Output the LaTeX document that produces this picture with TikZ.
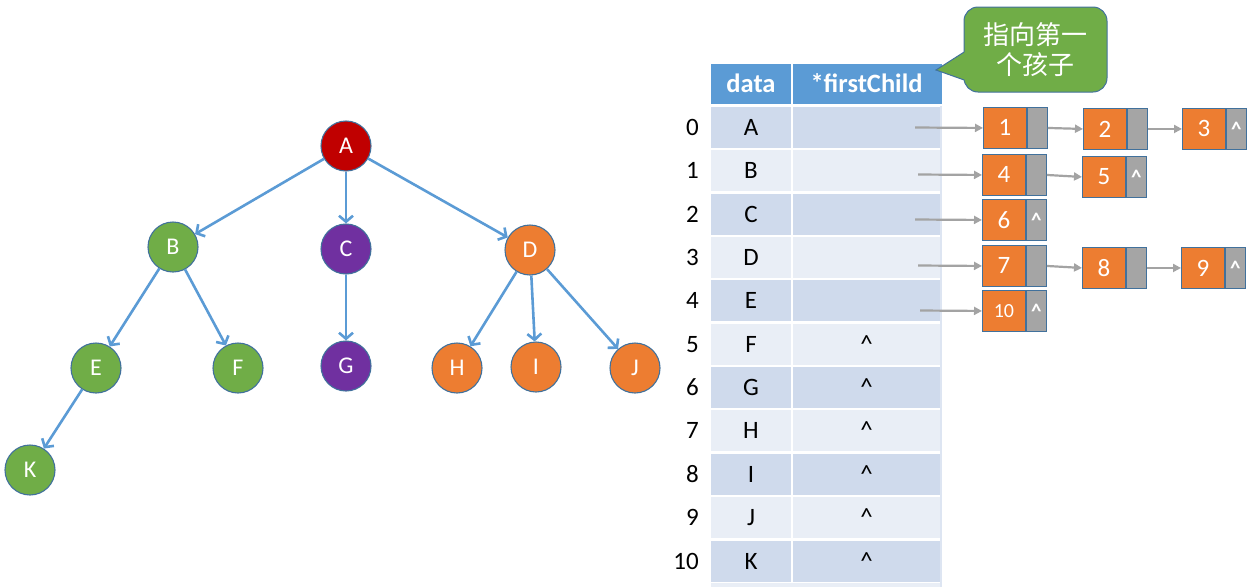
\documentclass[tikz,border=0pt]{standalone}
\usepackage{fontspec}
\setmainfont{Carlito}
\newfontfamily\cjk{Noto Sans CJK SC}
\usetikzlibrary{arrows.meta}
\definecolor{treeblue}{HTML}{5B9BD5}
\definecolor{edgeblue}{HTML}{41719C}
\definecolor{cred}{HTML}{C00000}
\definecolor{cgreen}{HTML}{70AD47}
\definecolor{cpurple}{HTML}{7030A0}
\definecolor{corange}{HTML}{ED7D31}
\definecolor{cgray}{HTML}{A5A5A5}
\definecolor{rowdark}{HTML}{CFDAEC}
\definecolor{rowlight}{HTML}{E9EEF6}
\definecolor{hdr}{HTML}{5B9BD5}
\definecolor{arrgray}{HTML}{A3A3A3}
\begin{document}
\begin{tikzpicture}[x=1pt,y=-1pt,
  tnode/.style={circle, draw=edgeblue, line width=1.1pt, minimum size=50pt, inner sep=0pt, text=white, font=\fontsize{24}{26}\selectfont},
  tedge/.style={draw=treeblue, line width=2.6pt, -{Straight Barb[length=6pt,width=14pt]}},
  hdrcell/.style={rectangle, fill=hdr, inner sep=0pt, minimum height=40pt, text=white, text height=17pt, text depth=0pt, font=\fontsize{26.5}{28}\selectfont\bfseries},
  cell/.style={rectangle, inner sep=0pt, minimum height=41pt, text height=16pt, text depth=0pt, font=\fontsize{25}{28}\selectfont},
  idx/.style={inner sep=0pt, anchor=east, text height=16pt, text depth=0pt, font=\fontsize{25}{28}\selectfont},
  lnode/.style={rectangle, draw=edgeblue, line width=0.9pt, fill=corange, minimum width=43pt, minimum height=41pt, inner sep=0pt, text=white, font=\fontsize{25}{28}\selectfont},
  lptr/.style={rectangle, draw=edgeblue, line width=0.9pt, fill=cgray, minimum width=20pt, minimum height=41pt, inner sep=0pt, text=white, font=\fontsize{21}{22}\selectfont\bfseries},
  garrow/.style={draw=arrgray, line width=2.2pt, -{Triangle[length=8pt,width=8pt]}}
]
\useasboundingbox (0,0) rectangle (1250,587);
% ---------------- tree ----------------
\node[tnode, fill=cred] (A) at (346,146) {A};
\node[tnode, fill=cgreen] (B) at (173,247) {B};
\node[tnode, fill=cpurple] (C) at (346,249) {C};
\node[tnode, fill=corange] (D) at (530,250) {D};
\node[tnode, fill=cgreen] (E) at (96,368) {E};
\node[tnode, fill=cgreen] (F) at (238,368) {F};
\node[tnode, fill=cpurple] (G) at (346,366) {G};
\node[tnode, fill=corange] (H) at (457,368) {H};
\node[tnode, fill=corange] (I) at (536,367) {I};
\node[tnode, fill=corange] (J) at (635,368) {J};
\node[tnode, fill=cgreen] (K) at (30,470) {K};
\foreach \s/\t in {A/B,A/C,A/D,B/E,B/F,C/G,D/H,D/I,D/J,E/K}
  \draw[tedge] (\s) -- (\t);
% ---------------- table ----------------
\node[hdrcell, minimum width=80pt] (hdata) at (751,84) {data};
\node[hdrcell, minimum width=147pt] (hfc) at (866.5,84) {*firstChild};
\fill[hdr] (940,64) rectangle (942,104);
\foreach \i/\l in {0/A,1/B,2/C,3/D,4/E,5/F,6/G,7/H,8/I,9/J,10/K}{
  \pgfmathsetmacro{\yc}{127.5+43.35*\i}
  \ifodd\i \def\rc{rowlight}\else\def\rc{rowdark}\fi
  \node[cell, fill=\rc, minimum width=80pt] (d\i) at (751,\yc) {\l};
  \node[cell, fill=\rc, minimum width=147pt] (f\i) at (866.5,\yc) {\ifnum\i>4 \textasciicircum\fi};
  \node[idx] (ix\i) at (699,\yc) {\i};
}
\fill[rowdark!70!white] (940,106) rectangle (942,587);
\fill[rowlight] (711,583) rectangle (940,587);
% ---------------- callout ----------------
\node[rectangle, rounded corners=14pt, fill=cgreen, draw=edgeblue, line width=1pt,
      minimum width=143pt, minimum height=85pt, inner sep=0pt, align=center, text=white,
      font=\cjk\fontsize{26}{30}\selectfont] (callout) at (1035.5,49.5) {指向第一\\个孩子};
\fill[cgreen] (966,52) -- (964,52) -- (936,70) -- (964,80) -- (966,80) -- cycle;
\draw[edgeblue, line width=1pt, line join=miter] (964.2,52) -- (936,70) -- (964.2,80);
% ---------------- linked lists ----------------
\node[lnode, anchor=north west] (n1) at (983,107) {1};
\node[lptr, anchor=west] (n1p) at (n1.east) {};
\node[lnode, anchor=north west] (n2) at (1083,108) {2};
\node[lptr, anchor=west] (n2p) at (n2.east) {};
\node[lnode, anchor=north west] (n3) at (1182,108) {3};
\node[lptr, anchor=west] (n3p) at (n3.east) {\textasciicircum};
\node[lnode, anchor=north west] (n4) at (982,154) {4};
\node[lptr, anchor=west] (n4p) at (n4.east) {};
\node[lnode, anchor=north west] (n5) at (1082,156) {5};
\node[lptr, anchor=west] (n5p) at (n5.east) {\textasciicircum};
\node[lnode, anchor=north west] (n6) at (982,199) {6};
\node[lptr, anchor=west] (n6p) at (n6.east) {\textasciicircum};
\node[lnode, anchor=north west] (n7) at (982,245) {7};
\node[lptr, anchor=west] (n7p) at (n7.east) {};
\node[lnode, anchor=north west] (n8) at (1082,247) {8};
\node[lptr, anchor=west] (n8p) at (n8.east) {};
\node[lnode, anchor=north west] (n9) at (1181,247) {9};
\node[lptr, anchor=west] (n9p) at (n9.east) {\textasciicircum};
\node[lnode, anchor=north west, font=\fontsize{20}{22}\selectfont] (n10) at (982,290) {10};
\node[lptr, anchor=west] (n10p) at (n10.east) {\textasciicircum};
% pointer starts
\coordinate (p0) at (915,127.5);
\coordinate (p1) at (918,174.5);
\coordinate (p2) at (915,219.5);
\coordinate (p3) at (918,265.5);
\coordinate (p4) at (920,310.5);
\draw[garrow] (p0) -- (n1.west);
\draw[garrow] (p1) -- (n4.west);
\draw[garrow] (p2) -- (n6.west);
\draw[garrow] (p3) -- (n7.west);
\draw[garrow] (p4) -- (n10.west);
\draw[garrow] (n1p.east) -- (n2.west);
\draw[garrow] (n2p.east) -- (n3.west);
\draw[garrow] (n4p.east) -- (n5.west);
\draw[garrow] (n7p.east) -- (n8.west);
\draw[garrow] (n8p.east) -- (n9.west);
\end{tikzpicture}
\end{document}
